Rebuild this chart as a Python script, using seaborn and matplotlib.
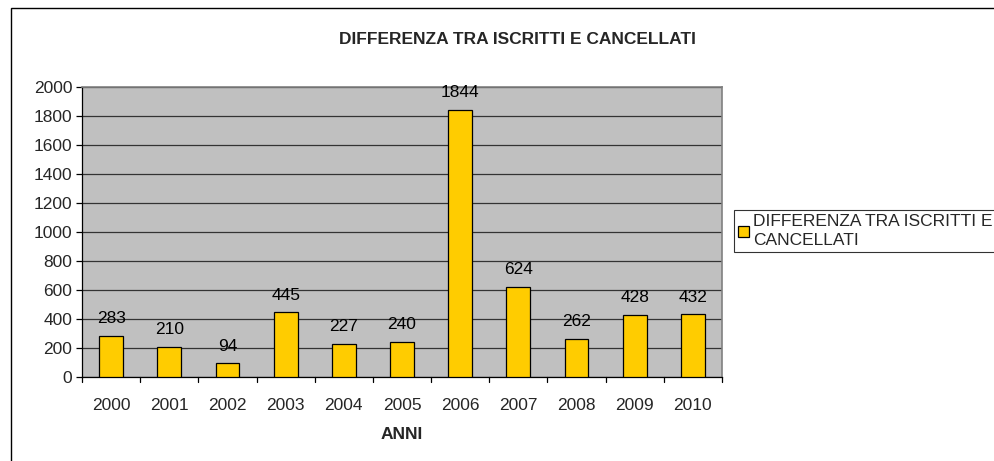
import matplotlib
matplotlib.use("Agg")
import matplotlib.pyplot as plt
import seaborn as sns
import pandas as pd
from matplotlib.patches import Rectangle, Patch

years = ["2000", "2001", "2002", "2003", "2004", "2005", "2006", "2007", "2008", "2009", "2010"]
values = [283, 210, 94, 445, 227, 240, 1844, 624, 262, 428, 432]
series_name = "DIFFERENZA TRA ISCRITTI E\nCANCELLATI"
title = "DIFFERENZA TRA ISCRITTI E CANCELLATI"
xlabel = "ANNI"
yticks = [0, 200, 400, 600, 800, 1000, 1200, 1400, 1600, 1800, 2000]

sns.set_style("white")
plt.rcParams['font.family'] = ['Liberation Sans', 'DejaVu Sans']
FS = 12.5

df = pd.DataFrame({"anno": years, "valore": values})

fig = plt.figure(figsize=(9.95, 4.61), dpi=100)
ax = fig.add_axes([82/995, 1-377/461, 640/995, 290/461])
ax.set_facecolor("#C0C0C0")

sns.barplot(data=df, x="anno", y="valore", color="#FFCC00", width=0.41,
            edgecolor="black", linewidth=0.9, saturation=1, ax=ax, zorder=3)

ax.set_ylim(0, 2000)
ax.set_xlim(-0.5, len(years) - 0.5)
ax.set_yticks(yticks)
ax.set_yticklabels([str(v) for v in yticks], fontsize=FS)
ax.yaxis.grid(True, color="#333333", linewidth=0.9, zorder=0)
ax.set_axisbelow(True)

ax.set_xticks([i for i in range(len(years))])
ax.set_xticklabels(years, fontsize=FS)
ax.tick_params(axis="x", length=0, pad=15)
for b in [i - 0.5 for i in range(len(years) + 1)]:
    ax.plot([b, b], [0, -0.018], transform=ax.get_xaxis_transform(), color="black",
            lw=0.9, clip_on=False)
ax.tick_params(axis="y", length=4, width=0.9, color="black", pad=3, left=True)

ax.set_xlabel(xlabel, fontsize=FS, fontweight="bold", labelpad=10)
ax.set_ylabel("")

for s in ["left", "bottom"]:
    ax.spines[s].set_color("black")
    ax.spines[s].set_linewidth(0.9)
for s in ["top", "right"]:
    ax.spines[s].set_color("#808080")
    ax.spines[s].set_linewidth(1.2)

for i, v in enumerate(values):
    ax.annotate(str(v), (i, v), xytext=(0, 7), textcoords="offset points",
                ha="center", va="bottom", fontsize=FS, color="black")

fig.text(517/995, 1-40/461, title, ha="center", va="center", fontsize=FS, fontweight="bold")

handle = Patch(facecolor="#FFCC00", edgecolor="black", linewidth=0.9)
leg = fig.legend([handle], [series_name],
                 loc="upper left", bbox_to_anchor=(734/995, 1-210/461),
                 fontsize=FS, frameon=True, fancybox=False, handlelength=0.6,
                 handleheight=0.6, handletextpad=0.25, borderpad=0.25, borderaxespad=0)
leg.get_frame().set_edgecolor("black")
leg.get_frame().set_linewidth(0.8)
for t in leg.get_texts():
    t.set_linespacing(1.3)

fig.patches.append(Rectangle((11/995, -0.5), 1.5, 1.5 - 8/461, transform=fig.transFigure,
                             fill=False, edgecolor="black", linewidth=1.0, zorder=0))

fig.savefig("out.png", dpi=100)
